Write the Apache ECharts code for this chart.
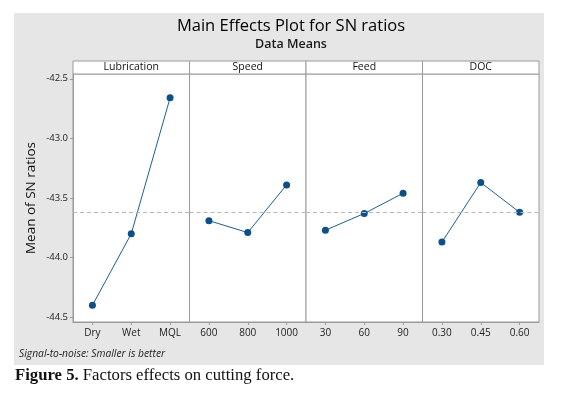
<!DOCTYPE html>
<html><head><meta charset="utf-8">
<script src="https://cdn.jsdelivr.net/npm/echarts@6/dist/echarts.min.js"></script>
<style>html,body{margin:0;padding:0;background:#fff}#c{width:574px;height:393px}</style>
</head><body><div id="c"></div>
<script>
const factors = ['Lubrication', 'Speed', 'Feed', 'DOC'];
const lubricationLevels = ['Dry', 'Wet', 'MQL'];
const speedLevels = ['600', '800', '1000'];
const feedLevels = ['30', '60', '90'];
const docLevels = ['0.30', '0.45', '0.60'];
const lubricationSN = [-44.40, -43.80, -42.66];
const speedSN = [-43.69, -43.79, -43.39];
const feedSN = [-43.77, -43.63, -43.46];
const docSN = [-43.87, -43.37, -43.62];
const yTicks = [-44.5, -44.0, -43.5, -43.0, -42.5];

(function () {
const levels = [lubricationLevels, speedLevels, feedLevels, docLevels];
const values = [lubricationSN, speedSN, feedSN, docSN];
const all = values.flat();
const grandMean = all.reduce((a, b) => a + b, 0) / all.length;

const FONT = '"Open Sans", "Noto Sans", sans-serif';
const left0 = 73, panelW = 116.5, gTop = 74, gBottom = 322;
const grids = [], xAxes = [], yAxes = [], series = [], graphics = [];

graphics.push({type: 'rect', z: -10, shape: {x: 14, y: 13, width: 530, height: 352}, style: {fill: '#e6e6e6'}, silent: true});

factors.forEach((f, i) => {
  const left = left0 + i * panelW;
  grids.push({left: left, top: gTop, width: panelW, height: gBottom - gTop, show: true, backgroundColor: '#fff', borderColor: '#9a9a9a', borderWidth: 1, containLabel: false});
  xAxes.push({type: 'category', gridIndex: i, data: levels[i], boundaryGap: true,
    axisLine: {show: true, lineStyle: {color: '#9a9a9a'}},
    axisTick: {show: true, alignWithLabel: true, length: 3, lineStyle: {color: '#9a9a9a'}},
    axisLabel: {color: '#222', fontSize: 10, fontFamily: FONT, margin: 6}});
  yAxes.push({type: 'value', gridIndex: i, min: -44.54, max: -42.46,
    name: i === 0 ? 'Mean of SN ratios' : '', nameLocation: 'middle', nameGap: 35,
    nameTextStyle: {fontSize: 13.5, color: '#111', fontFamily: FONT},
    splitLine: {show: false},
    axisLine: {show: i === 0, lineStyle: {color: '#9a9a9a'}},
    axisTick: {show: i === 0, length: 3, customValues: yTicks, lineStyle: {color: '#9a9a9a'}},
    axisLabel: {show: i === 0, customValues: yTicks, formatter: v => v.toFixed(1), color: '#222', fontSize: 9.5, fontFamily: FONT, margin: 5}});
  series.push({type: 'line', xAxisIndex: i, yAxisIndex: i, data: values[i],
    symbol: 'circle', symbolSize: 7, showSymbol: true,
    lineStyle: {color: '#1f5f8f', width: 1}, itemStyle: {color: '#0d4f86'},
    markLine: {silent: true, symbol: 'none', label: {show: false},
      lineStyle: {type: [4, 3], color: '#b8b8b8', width: 1},
      data: [{yAxis: grandMean}]}});
  graphics.push({type: 'rect', shape: {x: left, y: 61, width: panelW, height: 13}, style: {fill: '#fff', stroke: '#9a9a9a', lineWidth: 1}, silent: true});
  graphics.push({type: 'text', x: left + panelW / 2, y: 67.5, style: {text: f, fill: '#111', font: '10.5px ' + FONT, textAlign: 'center', textVerticalAlign: 'middle'}, silent: true});
});

graphics.push({type: 'text', x: 19, y: 354, style: {text: 'Signal-to-noise: Smaller is better', fill: '#222', font: 'italic 10.3px ' + FONT, textVerticalAlign: 'middle'}, silent: true});
graphics.push({type: 'text', x: 15, y: 376, style: {rich: {b: {fontFamily: '"Liberation Serif", serif', fontWeight: 'bold', fontSize: 16.7, fill: '#111'}, n: {fontFamily: '"Liberation Serif", serif', fontSize: 16.7, fill: '#111'}}, text: '{b|Figure 5.}{n| Factors effects on cutting force.}', textVerticalAlign: 'middle'}, silent: true});

const chart = echarts.init(document.getElementById('c'), null, {renderer: 'canvas'});
chart.setOption({
  animation: false,
  backgroundColor: '#fff',
  title: {text: 'Main Effects Plot for SN ratios', subtext: 'Data Means', left: 286, textAlign: 'center', top: 13, itemGap: 3,
    textStyle: {fontSize: 16.5, fontWeight: 'normal', color: '#000', fontFamily: FONT},
    subtextStyle: {fontSize: 12.5, fontWeight: 600, color: '#1a1a1a', fontFamily: FONT}},
  grid: grids, xAxis: xAxes, yAxis: yAxes, series: series, graphic: graphics
});
})();
</script></body></html>
